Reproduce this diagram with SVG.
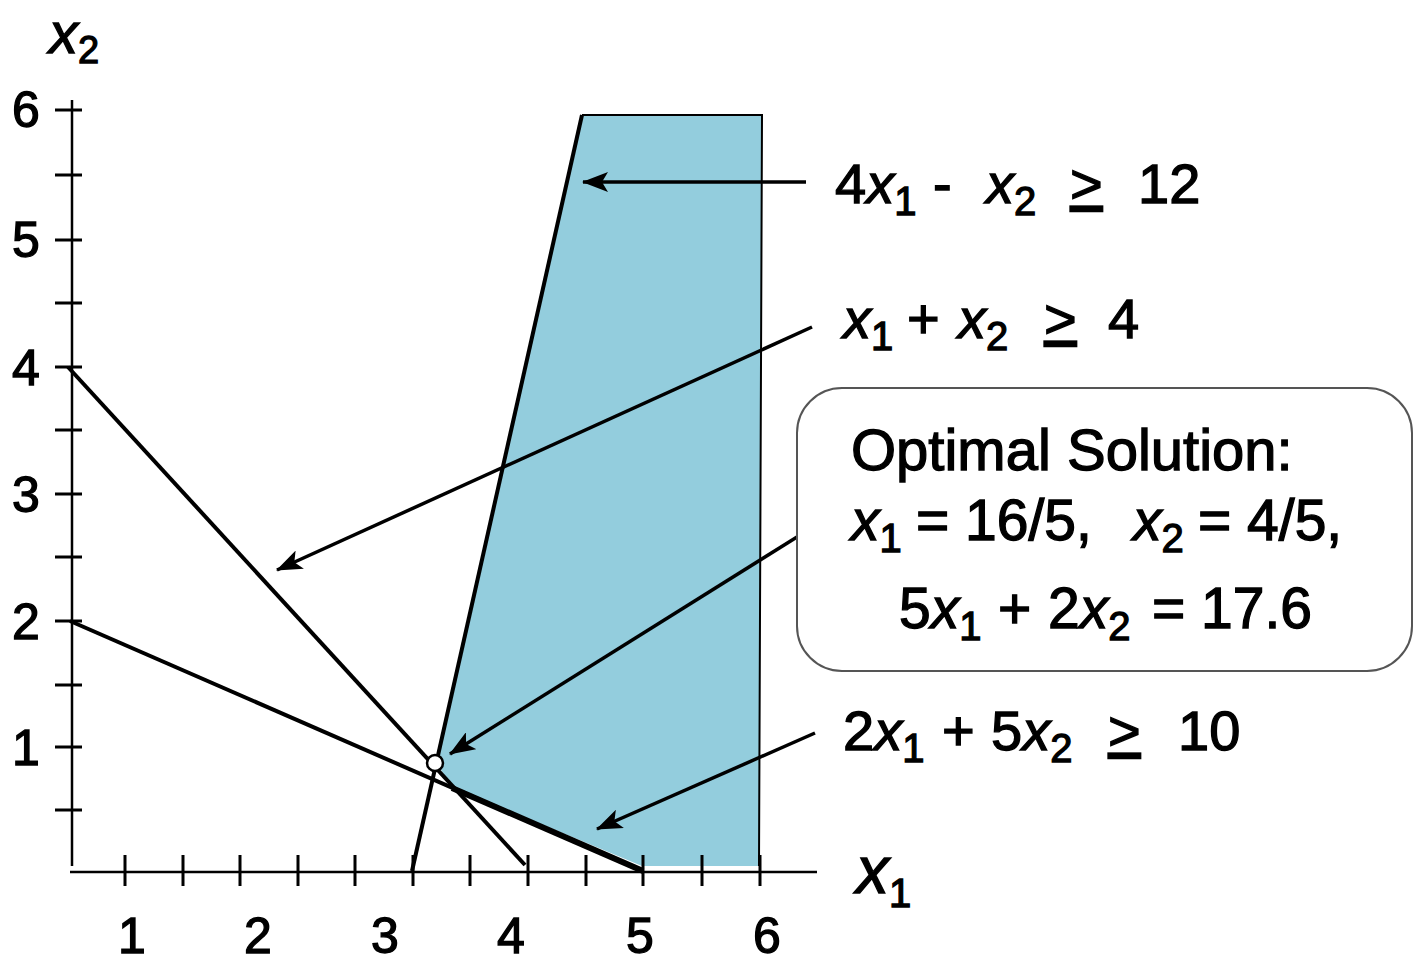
<svg xmlns="http://www.w3.org/2000/svg" width="1414" height="966" viewBox="0 0 1414 966">
<defs>
<marker id="ah" viewBox="0 0 26 20" refX="25" refY="10" markerWidth="26" markerHeight="20" markerUnits="userSpaceOnUse" orient="auto">
<path d="M0,0 L26,10 L0,20 L6,10 z" fill="#000"/>
</marker>
<style>
.t{font-family:"Liberation Sans",Arial,sans-serif;fill:#000;stroke:#000;stroke-width:1.3}
.ax{stroke:#000;stroke-width:2.5;fill:none}
.tk{stroke:#000;stroke-width:3;fill:none}
.ln{stroke:#000;stroke-width:4;fill:none}
.ar{stroke:#000;stroke-width:3.5;fill:none;marker-end:url(#ah)}
.i{font-style:italic}
.u{text-decoration:underline}
</style>
</defs>
<rect width="1414" height="966" fill="#fff"/>
<g id="region">
<polygon points="582,115 762,115 759,866 642,866 452,787 436,762" fill="#93CDDD"/>
<polyline points="582,115 762,115 759,866" fill="none" stroke="#000" stroke-width="2"/>
</g>
<g id="axes">
<line class="ax" x1="72" y1="100" x2="72" y2="866"/>
<line class="ax" x1="70" y1="872" x2="817" y2="872"/>
<g class="tk">
<path d="M55,110H82M55,175H82M55,240H82M55,303H82M55,367H82M55,430H82M55,494H82M55,557H82M55,621H82M55,685H82M55,747H82M55,810H82"/>
<path d="M125,855V886M183,855V886M240,855V886M298,855V886M355,855V886M413,855V886M470,855V886M528,855V886M586,855V886M643,855V886M702,855V886M760,855V886"/>
</g>
<g class="t" font-size="50" text-anchor="middle">
<text x="26" y="127">6</text>
<text x="26" y="257">5</text>
<text x="26" y="385">4</text>
<text x="26" y="512">3</text>
<text x="26" y="639">2</text>
<text x="26" y="765">1</text>
<text x="132" y="953">1</text>
<text x="258" y="953">2</text>
<text x="385" y="953">3</text>
<text x="511" y="953">4</text>
<text x="640" y="953">5</text>
<text x="767" y="953">6</text>
</g>
<text class="t" x="49" y="53" font-size="58"><tspan class="i">x</tspan><tspan font-size="38" dy="10">2</tspan></text>
<text class="t" x="856" y="893" font-size="66"><tspan class="i">x</tspan><tspan font-size="40" dy="14">1</tspan></text>
</g>
<g id="constraints">
<line class="ln" x1="582" y1="115" x2="412" y2="871"/>
<line class="ln" x1="68" y1="367" x2="525" y2="865"/>
<line class="ln" x1="70" y1="621" x2="643" y2="871"/>
<line stroke="#000" stroke-width="6" x1="452" y1="788" x2="643" y2="871"/>
</g>
<g id="optimum">
<circle cx="435" cy="763" r="8" fill="#fff" stroke="#000" stroke-width="2.5"/>
</g>
<g id="connectors">
<line class="ar" x1="806" y1="182" x2="583" y2="182"/>
<line class="ar" x1="812" y1="327" x2="277" y2="570"/>
<line class="ar" x1="797" y1="537" x2="450" y2="754"/>
<line class="ar" x1="815" y1="733" x2="597" y2="829"/>
</g>
<g id="label-c1">
<text class="t" font-size="56" y="203"><tspan x="835">4</tspan><tspan class="i">x</tspan><tspan font-size="40" dy="12">1</tspan><tspan dy="-12" x="933">-</tspan><tspan class="i" x="986">x</tspan><tspan font-size="40" dy="12">2</tspan><tspan dy="-12" x="1070" class="u">&gt;</tspan><tspan x="1138">12</tspan></text>
</g>
<g id="label-c2">
<text class="t" font-size="56" y="338"><tspan class="i" x="843">x</tspan><tspan font-size="40" dy="12">1</tspan><tspan dy="-12" x="907">+</tspan><tspan class="i" x="958">x</tspan><tspan font-size="40" dy="12">2</tspan><tspan dy="-12" x="1044" class="u">&gt;</tspan><tspan x="1108">4</tspan></text>
</g>
<g id="label-c3">
<text class="t" font-size="56" y="750"><tspan x="843">2</tspan><tspan class="i">x</tspan><tspan font-size="40" dy="12">1</tspan><tspan dy="-12" x="942">+</tspan><tspan x="991">5</tspan><tspan class="i">x</tspan><tspan font-size="40" dy="12">2</tspan><tspan dy="-12" x="1108" class="u">&gt;</tspan><tspan x="1178">10</tspan></text>
</g>
<g id="solution-box">
<rect x="797" y="388" width="615" height="283" rx="45" ry="45" fill="#fff" stroke="#555" stroke-width="2"/>
<text class="t" font-size="58" x="851" y="470">Optimal Solution:</text>
<text class="t" font-size="57" y="540"><tspan class="i" x="851">x</tspan><tspan font-size="40" dy="12">1</tspan><tspan dy="-12" x="916">= 16/5,</tspan><tspan class="i" x="1133">x</tspan><tspan font-size="40" dy="12">2</tspan><tspan dy="-12" x="1198">= 4/5,</tspan></text>
<text class="t" font-size="57" y="628"><tspan x="899">5</tspan><tspan class="i">x</tspan><tspan font-size="40" dy="12">1</tspan><tspan dy="-12" x="998">+</tspan><tspan x="1048">2</tspan><tspan class="i">x</tspan><tspan font-size="40" dy="12">2</tspan><tspan dy="-12" x="1152">= 17.6</tspan></text>
</g>
</svg>
